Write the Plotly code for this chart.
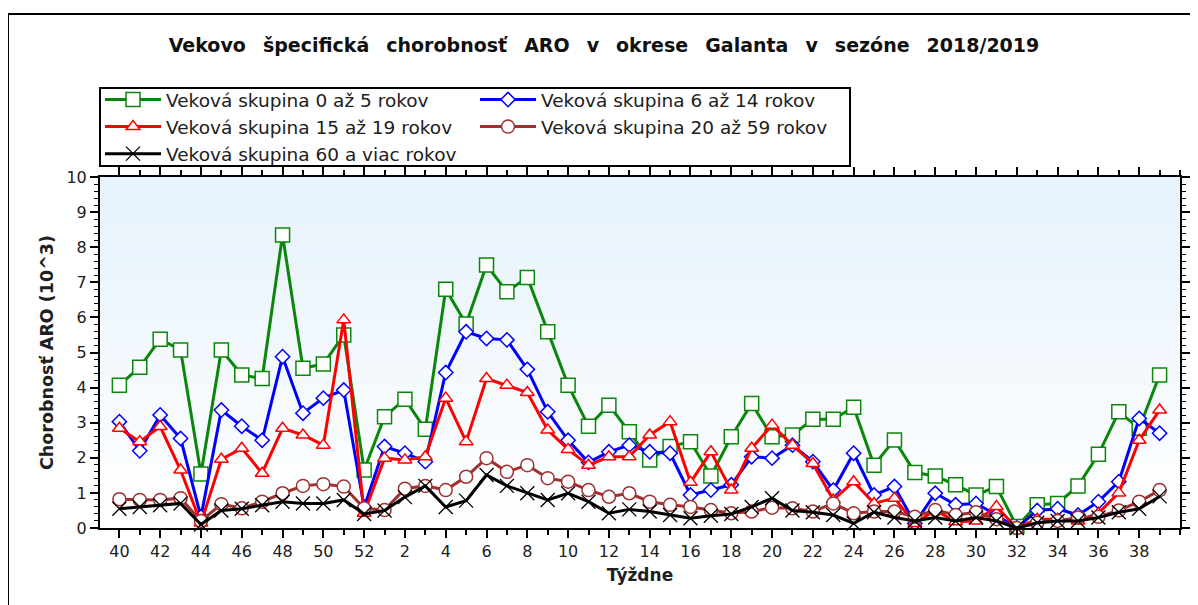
import plotly.graph_objects as go

# weeks of the season 2018/2019
weeks = list(range(40, 53)) + list(range(1, 40))
tick_weeks = [40, 42, 44, 46, 48, 50, 52] + list(range(2, 40, 2))

g0_5 = [4.07, 4.58, 5.38, 5.07, 1.54, 5.07, 4.36, 4.26, 8.35, 4.55, 4.67, 5.50, 1.65,
        3.17, 3.67, 2.81, 6.80, 5.81, 7.49, 6.73, 7.14, 5.59, 4.07, 2.90, 3.50, 2.74,
        1.94, 2.32, 2.46, 1.48, 2.60, 3.55, 2.60, 2.65, 3.10, 3.10, 3.44, 1.79, 2.51,
        1.58, 1.48, 1.23, 0.94, 1.18, 0.04, 0.66, 0.70, 1.20, 2.10, 3.31, 2.84, 4.36]
g6_14 = [3.03, 2.20, 3.22, 2.55, 0.32, 3.36, 2.90, 2.50, 4.88, 3.27, 3.70, 3.93, 0.59,
         2.32, 2.13, 1.89, 4.43, 5.59, 5.40, 5.36, 4.52, 3.31, 2.50, 1.87, 2.17, 2.36,
         2.17, 2.13, 0.94, 1.08, 1.23, 2.03, 1.99, 2.36, 1.89, 1.08, 2.13, 0.94, 1.18,
         0.13, 0.99, 0.66, 0.70, 0.37, 0.00, 0.50, 0.55, 0.37, 0.75, 1.32, 3.12, 2.70]
g15_19 = [2.84, 2.46, 2.89, 1.65, 0.14, 1.96, 2.27, 1.56, 2.84, 2.65, 2.36, 5.93, 0.42,
          1.99, 1.94, 2.03, 3.70, 2.46, 4.26, 4.07, 3.86, 2.79, 2.24, 1.79, 2.03, 2.03,
          2.65, 3.03, 1.30, 2.17, 1.08, 2.27, 2.93, 2.36, 1.84, 0.80, 1.32, 0.70, 0.85,
          0.13, 0.51, 0.18, 0.20, 0.61, 0.00, 0.25, 0.25, 0.20, 0.42, 1.00, 2.50, 3.36]
g20_59 = [0.82, 0.80, 0.80, 0.85, 0.20, 0.68, 0.56, 0.75, 0.99, 1.20, 1.25, 1.18, 0.56,
          0.51, 1.12, 1.20, 1.08, 1.46, 1.99, 1.60, 1.79, 1.42, 1.32, 1.08, 0.89, 0.99,
          0.75, 0.66, 0.60, 0.51, 0.42, 0.47, 0.58, 0.56, 0.47, 0.70, 0.42, 0.47, 0.47,
          0.32, 0.51, 0.37, 0.45, 0.25, 0.00, 0.15, 0.20, 0.30, 0.32, 0.50, 0.75, 1.08]
g60 = [0.55, 0.60, 0.65, 0.70, 0.10, 0.50, 0.55, 0.65, 0.75, 0.70, 0.70, 0.80, 0.40,
       0.50, 0.88, 1.20, 0.60, 0.78, 1.51, 1.20, 0.99, 0.80, 0.99, 0.75, 0.42, 0.53,
       0.47, 0.37, 0.28, 0.35, 0.40, 0.60, 0.85, 0.50, 0.45, 0.37, 0.13, 0.45, 0.30,
       0.20, 0.30, 0.20, 0.30, 0.20, 0.00, 0.15, 0.20, 0.20, 0.30, 0.45, 0.55, 0.90]

idx = list(range(len(weeks)))
tickvals = [weeks.index(w) for w in tick_weeks]

FONT = 'DejaVu Sans'

series = [
    ('Veková skupina 0 až 5 rokov', g0_5, '#0a870a', 'square', 14),
    ('Veková skupina 6 až 14 rokov', g6_14, '#0000ff', 'diamond', 11),
    ('Veková skupina 15 až 19 rokov', g15_19, '#ff0000', 'triangle-up', 12),
    ('Veková skupina 20 až 59 rokov', g20_59, '#a03030', 'circle', 13),
]

fig = go.Figure()

for name, vals, col, sym, sz in series:
    fig.add_trace(go.Scatter(
        x=idx, y=vals, name=name, mode='lines+markers',
        line=dict(color=col, width=3),
        marker=dict(symbol=sym, size=sz, color='white', line=dict(color=col, width=1.5)),
        cliponaxis=False,
    ))

fig.add_trace(go.Scatter(
    x=idx, y=g60, name='Veková skupina 60 a viac rokov', mode='lines+markers',
    line=dict(color='black', width=3),
    marker=dict(symbol='x-thin', size=14, line=dict(color='black', width=1.3)),
    cliponaxis=False,
))

# page body has an 8px margin, so the figure is laid out 8px up/left
PW = 1080.0   # plot width in px
PH = 351.0    # plot height in px
BOTTOM = 520.0  # plot bottom, figure px

def py(v):
    return (BOTTOM - v) / PH

# light blue gradient in the plot area
shapes = []
n = 40
for i in range(n):
    t = i / (n - 1)
    r = int(255 - (255 - 230) * t)
    g = int(255 - (255 - 242) * t)
    b = int(255 - (255 - 252) * t)
    shapes.append(dict(type='rect', xref='x domain', yref='y domain',
                       x0=0, x1=1, y0=i / n, y1=(i + 1) / n,
                       fillcolor='rgb(%d,%d,%d)' % (r, g, b), line=dict(width=0), layer='below'))
# outer frame: left and top edges only (rest is cut off)
shapes.append(dict(type='line', xref='paper', yref='paper',
                   x0=-92 / PW, x1=-92 / PW, y0=-0.3, y1=py(6),
                   line=dict(color='black', width=2)))
shapes.append(dict(type='line', xref='paper', yref='paper',
                   x0=-92 / PW, x1=1.2, y0=py(6), y1=py(6),
                   line=dict(color='black', width=2)))
# legend box
shapes.append(dict(type='rect', xref='paper', yref='paper',
                   x0=0, x1=750 / PW, y0=py(158), y1=py(80),
                   line=dict(color='black', width=2), fillcolor='rgba(0,0,0,0)'))

fig.update_xaxes(
    range=[-0.95, 52], tickmode='array', tickvals=tickvals, ticktext=[str(w) for w in tick_weeks],
    ticks='outside', ticklen=8, tickwidth=2, tickcolor='black',
    minor=dict(dtick=1, tick0=0, ticks='outside', ticklen=5, tickwidth=2, tickcolor='black'),
    showline=True, linecolor='black', linewidth=2, mirror='ticks', showgrid=False, zeroline=False,
    tickfont=dict(family=FONT, size=16, color='#202020'),
    title=dict(text='<b>Týždne</b>', font=dict(family=FONT, size=17, color='#202020'), standoff=9),
)
fig.update_yaxes(
    range=[0, 10], dtick=1, tick0=0,
    ticks='outside', ticklen=8, tickwidth=2, tickcolor='black',
    minor=dict(dtick=0.2, ticks='outside', ticklen=4, tickwidth=1, tickcolor='black'),
    showline=True, linecolor='black', linewidth=2, mirror='ticks', showgrid=False, zeroline=False,
    tickfont=dict(family=FONT, size=16, color='#202020'),
    title=dict(text='<b>Chorobnosť ARO (10^3)</b>', font=dict(family=FONT, size=17.5, color='#202020'), standoff=8),
)

gap = '  \u2009'
title_words = ['Vekovo', 'špecifická', 'chorobnosť', 'ARO', 'v', 'okrese', 'Galanta', 'v', 'sezóne', '2018/2019']

fig.update_layout(
    width=1198,
    height=605,
    margin=dict(l=92, r=26, t=169, b=85),
    paper_bgcolor='white',
    plot_bgcolor='white',
    shapes=shapes,
    title=dict(text='<b>' + gap.join(title_words) + '</b>',
               x=596 / 1198, xanchor='center', y=1 - 37 / 605, yanchor='middle', yref='container',
               font=dict(family=FONT, size=19, color='#101010')),
    legend=dict(orientation='h', x=0, xanchor='left', y=py(73), yanchor='top',
                entrywidth=304, entrywidthmode='pixels', itemwidth=56,
                bgcolor='rgba(0,0,0,0)', borderwidth=0,
                font=dict(family=FONT, size=18.5, color='#202020')),
    showlegend=True,
)

fig.write_html('out.html')
